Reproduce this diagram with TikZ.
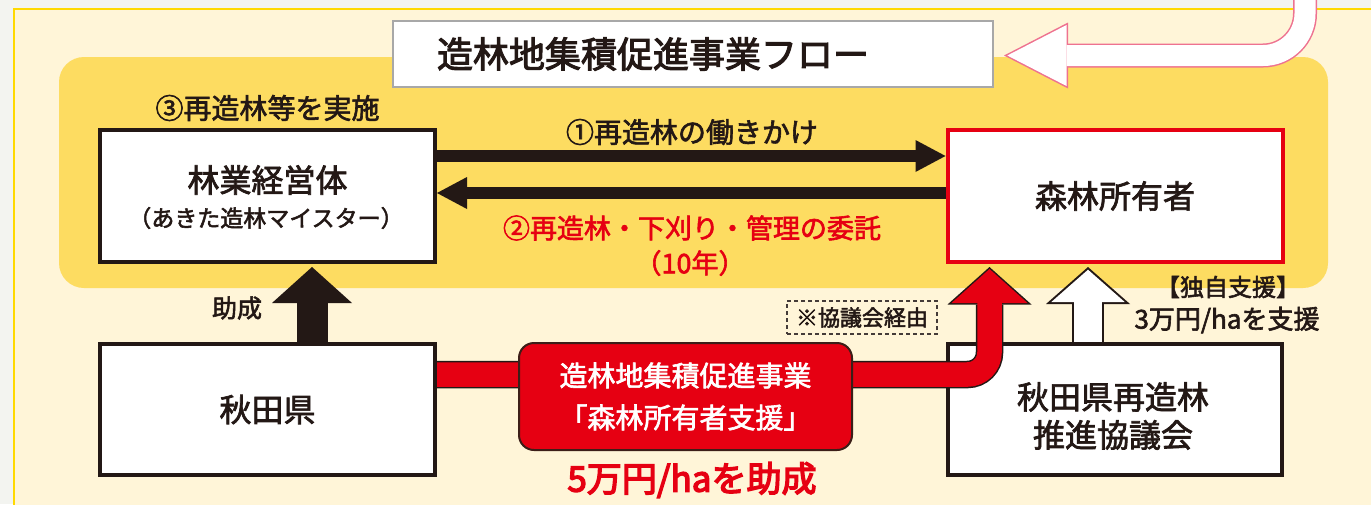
\documentclass[tikz,border=0pt]{standalone}
\usepackage{fontspec}
\setmainfont{Noto Sans CJK JP}
\newfontfamily\jp[FakeBold=2.2]{Noto Sans CJK JP}
\newfontfamily\jptitle[FakeBold=2.8]{Noto Sans CJK JP}
\newfontfamily\jpheavy[FakeBold=4]{Noto Sans CJK JP}
\usetikzlibrary{arrows.meta,calc}
\newcommand\fsz[2]{\fontsize{#1}{#2}\selectfont}
\definecolor{outbg}{HTML}{F3F4F0}
\definecolor{cream}{HTML}{FFF5D8}
\definecolor{gold}{HTML}{FFD900}
\definecolor{yel}{HTML}{FDDC61}
\definecolor{ink}{HTML}{231815}
\definecolor{jred}{HTML}{E60012}
\definecolor{pinkline}{HTML}{EE7290}
\definecolor{tgray}{HTML}{A8A8A8}
\definecolor{edgedark}{HTML}{3C1E18}
\pgfdeclarelayer{bg}
\pgfdeclarelayer{arr}
\pgfsetlayers{bg,arr,main}
\begin{document}
\begin{tikzpicture}[x=1pt,y=-1pt,
  box/.style={draw=ink, line width=4pt, fill=white, minimum width=335pt, minimum height=132pt, inner sep=0pt},
  lbl/.style={inner sep=0pt, text=ink},
  blackarrow/.style={draw=ink, line width=12pt, -{Triangle[length=30pt,width=32pt,line width=0pt]}}
]
\clip (0,0) rectangle (1371,504);
\begin{pgfonlayer}{bg}
\fill[outbg] (0,0) rectangle (1371,504);
\fill[cream] (14,9) rectangle (1380,520);
\draw[gold, line width=2pt] (1380,9) -- (14,9) -- (14,520);
\fill[yel, rounded corners=25pt] (59,57) rectangle (1328,288);
\end{pgfonlayer}

% title
\node[draw=tgray, line width=2pt, fill=white, minimum width=600pt, minimum height=66pt, inner sep=0pt] (title) at (693,54) {};
\node[lbl, font={\jptitle\fsz{36}{40}}] (titletext) at (653,54) {造林地集積促進事業フロー};

% boxes
\node[box] (lg) at (267.5,196) {};
\node[lbl, font={\jp\fsz{32}{36}}] (lgname) at (267.5,180) {林業経営体};
\node[lbl, font={\jp\fsz{23}{26}}] (lgsub) at (266,218) {（あきた造林マイスター）};
\node[lbl, font={\jp\fsz{28}{30}}] (step3) at (267.5,108) {③再造林等を実施};

\node[box, draw=jred, font={\jp\fsz{32}{36}}, text=ink] (own) at (1115,196) {森林所有者};

\node[box, minimum height=131pt, font={\jp\fsz{32}{36}}, text=ink] (pref) at (267.5,409.5) {秋田県};
\node[box, minimum height=131pt, minimum width=334pt] (kyo) at (1115,409.5) {};
\node[lbl, font={\jp\fsz{32}{38}}, align=center] (kyotext) at (1113,416) {秋田県再造林\\推進協議会};

% red band (over the council box, under the red box)
\draw[ink, line width=27.5pt, rounded corners=22pt, -{Triangle[length=37.5pt,width=84pt,line width=0pt]}, shorten >=3pt] ([yshift=35pt]pref.east) -| ([xshift=44pt]own.south west);
\draw[jred, line width=24.5pt, rounded corners=22pt, -{Triangle[length=34pt,width=76pt,line width=0pt]}, shorten >=5pt] ([yshift=35pt]pref.east) -| ([xshift=44pt]own.south west);

\node[draw=edgedark, line width=2pt, fill=jred, rounded corners=15pt, minimum width=333pt, minimum height=107pt, text=white, align=center, font={\jp\fsz{28}{42}}] (rbox) at (685.5,396.5) {造林地集積促進事業\\「森林所有者支援」};

% labels
\node[lbl, font={\jp\fsz{28}{30}}] (l1) at (692,132) {①再造林の働きかけ};
\node[lbl, font={\jp\fsz{27}{30}}, text=jred] (l2) at (692,228) {②再造林・下刈り・管理の委託};
\node[lbl, font={\jp\fsz{27}{30}}, text=jred] (l2b) at (690,263) {（10年）};
\node[lbl, font={\jp\fsz{25}{28}}] (josei) at (237,308) {助成};
\node[draw=ink!85, dash pattern=on 4pt off 3pt, line width=1.2pt, minimum width=150pt, minimum height=33pt, inner sep=0pt, text=ink, font={\jp\fsz{22}{24}}] (via) at (862,317.5) {※協議会経由};
\node[lbl, font={\jp\fsz{24}{28}}] (dokuji) at (1228,287) {【独自支援】};
\node[lbl, font={\jp\fsz{26}{28}}] (dokuji2) at (1227,320) {3万円/haを支援};
\node[lbl, font={\jpheavy\fsz{35}{38}}, text=jred] (five) at (692,480) {5万円/haを助成};

% connectors
\begin{pgfonlayer}{arr}
% pink arrow into title
\coordinate (pinktop) at (1305,-30);
\draw[pinkline, line width=24pt, rounded corners=42pt, -{Triangle[length=64pt,width=66pt,line width=0pt]}, shorten >=10pt] (pinktop) |- ([yshift=-1.5pt]title.east);
\draw[white, line width=21pt, rounded corners=42pt, -{Triangle[length=59.2pt,width=61pt,line width=0pt]}, shorten >=13.3pt] (pinktop) |- ([yshift=-1.5pt]title.east);
% black arrows
\draw[blackarrow] ([yshift=40pt]lg.east) -- ([yshift=40pt]own.west);
\draw[blackarrow] ([yshift=3pt]own.west) -- ([yshift=3pt]lg.east);
\draw[ink, line width=31pt, -{Triangle[length=36pt,width=80pt,line width=0pt]}, shorten >=3pt] ([xshift=44.5pt]pref.north) -- ([xshift=44.5pt]lg.south);
% white arrow
\draw[ink, line width=32pt, -{Triangle[length=37pt,width=84pt,line width=0pt]}, shorten >=3pt] ([xshift=-27pt]kyo.north) -- ([xshift=-27pt]own.south);
\draw[white, line width=28pt, -{Triangle[length=32.3pt,width=73.4pt,line width=0pt]}, shorten >=5.7pt] ([xshift=-27pt]kyo.north) -- ([xshift=-27pt]own.south);
\end{pgfonlayer}
\end{tikzpicture}
\end{document}
